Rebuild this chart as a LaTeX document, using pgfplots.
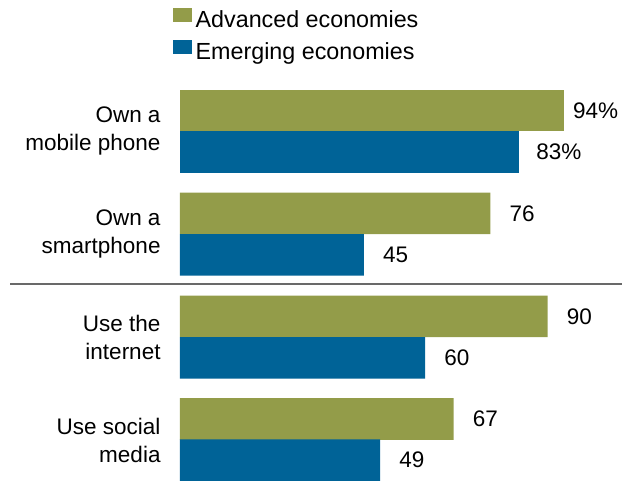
\documentclass[border=0pt]{standalone}
\usepackage{pgfplots}
\pgfplotsset{compat=1.18}
\usepackage{fontspec}
\setmainfont{Liberation Sans}
\definecolor{adv}{RGB}{147,156,73}
\definecolor{emg}{RGB}{0,99,151}
\definecolor{sepc}{RGB}{105,105,105}
\newcommand{\lblfont}{\fontsize{22.5}{28}\selectfont}
\newcommand{\legfont}{\fontsize{23.3}{28}\selectfont}
\begin{document}
\begin{tikzpicture}
\begin{axis}[
  name=ax, at={(0pt,0pt)}, anchor=south west,
  scale only axis, width=442pt, height=480pt,
  xmin=0, xmax=108.2, ymin=0, ymax=480,
  clip=false,
  axis line style={draw=none},
  tick style={draw=none},
  xtick=\empty,
  ytick={349,246,143,40},
  yticklabels={{Own a\\mobile phone},{Own a\\smartphone},{Use the\\internet},{Use social\\media}},
  yticklabel style={align=right, inner sep=0pt, xshift=-15pt, font=\lblfont},
  xbar, bar width=41.5, bar shift=0pt,
  point meta=explicit symbolic,
  nodes near coords,
  every node near coord/.append style={anchor=west, inner sep=0pt, font=\lblfont, text=black},
  legend style={at={(axis cs:-1.7,472)}, anchor=north west, draw=none, fill=none,
    inner sep=0pt, font=\legfont, cells={anchor=west}, row sep=7.4pt, column sep=4pt,
    nodes={inner sep=0pt, text height=16pt, text depth=5pt}},
]
\addlegendimage{legend image code/.code={\fill[adv] (0pt,1pt) rectangle (18pt,14pt);}}
\addlegendentry{Advanced economies}
\addlegendimage{legend image code/.code={\fill[emg] (0pt,1pt) rectangle (18pt,14pt);}}
\addlegendentry{Emerging economies}

\addplot[fill=adv, draw=none, forget plot,
  every node near coord/.append style={xshift=9pt}]
  coordinates {(94,369.5)[94\%]};
\addplot[fill=adv, draw=none, forget plot,
  every node near coord/.append style={xshift=19pt}]
  coordinates {(76,266.5)[76] (90,163.5)[90] (67,61)[67]};
\addplot[fill=emg, draw=none, forget plot,
  every node near coord/.append style={xshift=17pt}]
  coordinates {(83,328)[83\%]};
\addplot[fill=emg, draw=none, forget plot,
  every node near coord/.append style={xshift=19pt}]
  coordinates {(45,225)[45] (60,122)[60] (49,20)[49]};

\draw[sepc, line width=2pt] (axis cs:-41.6,195.7) -- (axis cs:108.2,195.7);
\end{axis}
\pgfresetboundingbox
\path (-180pt,0pt) rectangle (442pt,480pt);
\end{tikzpicture}
\end{document}
